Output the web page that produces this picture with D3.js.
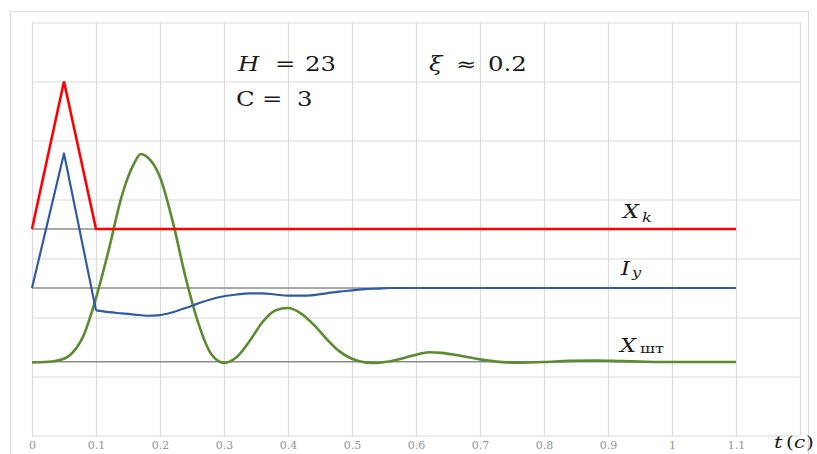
<!DOCTYPE html>
<html>
<head>
<meta charset="utf-8">
<script src="https://cdn.jsdelivr.net/npm/d3@7/dist/d3.min.js"></script>
<style>
  html, body { margin: 0; padding: 0; background: #fff; }
  svg { display: block; }
</style>
</head>
<body>
<svg id="chart" width="817" height="454"></svg>
<script>
// Time axis ticks (seconds)
const tickValues = [0, 0.1, 0.2, 0.3, 0.4, 0.5, 0.6, 0.7, 0.8, 0.9, 1, 1.1];
const tickLabels = ["0", "0.1", "0.2", "0.3", "0.4", "0.5", "0.6", "0.7", "0.8", "0.9", "1", "1.1"];

// Control pulse X_k (offset level 3.5)
const redT = [0, 0.05, 0.1, 1.1];
const redV = [3.5, 6.0, 3.5, 3.5];

// Amplifier current I_y (offset level 2.5); first three points form the pulse
const blueT = [0, 0.05, 0.1, 0.12, 0.14, 0.16, 0.18, 0.2, 0.22, 0.24, 0.26, 0.28, 0.3, 0.32, 0.34,
  0.36, 0.38, 0.4, 0.42, 0.44, 0.46, 0.48, 0.5, 0.52, 0.54, 0.56, 0.6, 0.7, 0.8, 0.9, 1.0, 1.1];
const blueV = [2.5, 4.78, 2.12, 2.09, 2.07, 2.05, 2.03, 2.04, 2.09, 2.16, 2.24, 2.31, 2.36, 2.39, 2.41,
  2.41, 2.39, 2.37, 2.37, 2.38, 2.41, 2.44, 2.46, 2.48, 2.49, 2.5, 2.5, 2.5, 2.5, 2.5, 2.5, 2.5];

// Rod displacement X_шт (offset level 1.25)
const greenT = [0, 0.02, 0.04, 0.06, 0.08, 0.1, 0.12, 0.14, 0.16, 0.17, 0.18, 0.2, 0.22, 0.24, 0.26,
  0.28, 0.3, 0.32, 0.34, 0.36, 0.38, 0.4, 0.42, 0.44, 0.46, 0.48, 0.5, 0.52, 0.54, 0.56, 0.58, 0.6,
  0.62, 0.64, 0.66, 0.68, 0.7, 0.72, 0.74, 0.76, 0.8, 0.84, 0.88, 0.92, 0.96, 1.0, 1.1];
const greenV = [1.24, 1.245, 1.27, 1.37, 1.68, 2.33, 3.15, 4.05, 4.62, 4.77, 4.72, 4.38, 3.62, 2.68, 1.9,
  1.38, 1.23, 1.33, 1.6, 1.92, 2.12, 2.16, 2.07, 1.88, 1.64, 1.43, 1.3, 1.24, 1.23, 1.26, 1.31, 1.37,
  1.41, 1.4, 1.37, 1.33, 1.29, 1.26, 1.24, 1.235, 1.245, 1.265, 1.27, 1.26, 1.25, 1.245, 1.245];

// Zero levels of the three traces
const baseLevels = [3.5, 2.5, 1.25];

const svg = d3.select("#chart");
const plotLeft = 32, plotRight = 800, plotTop = 22.5, plotBottom = 435.5;

const x = d3.scaleLinear().domain([0, 1.2]).range([plotLeft, plotRight]);
const y = d3.scaleLinear().domain([0, 7]).range([plotBottom, plotTop]);

// Outer chart frame
svg.append("rect")
  .attr("x", 10.5).attr("y", 11.5).attr("width", 798).attr("height", 460)
  .attr("fill", "none").attr("stroke", "#d9d9d9").attr("stroke-width", 1);

// Vertical gridlines
svg.append("g")
  .attr("transform", `translate(0,${plotBottom})`)
  .call(d3.axisBottom(x).tickValues(d3.range(0, 13).map(i => i / 10)).tickSize(-(plotBottom - plotTop)).tickFormat(""))
  .call(g => g.select(".domain").remove())
  .call(g => g.selectAll(".tick line").attr("stroke", "#d9d9d9").attr("stroke-width", 1.2));

// Horizontal gridlines
svg.append("g")
  .attr("transform", `translate(${plotLeft},0)`)
  .call(d3.axisLeft(y).tickValues(d3.range(0, 8)).tickSize(-(plotRight - plotLeft)).tickFormat(""))
  .call(g => g.select(".domain").remove())
  .call(g => g.selectAll(".tick line").attr("stroke", "#d9d9d9").attr("stroke-width", 1.2));

// Time tick labels
svg.append("g")
  .attr("transform", `translate(0,${plotBottom})`)
  .call(d3.axisBottom(x).tickValues(tickValues).tickSize(0).tickPadding(6)
    .tickFormat((d, i) => tickLabels[i]))
  .call(g => g.select(".domain").remove())
  .call(g => g.selectAll("text")
    .attr("font-family", "DejaVu Serif, serif")
    .attr("font-size", 11)
    .attr("fill", "#949494"));

// Zero levels
svg.append("g").selectAll("line").data(baseLevels).join("line")
  .attr("x1", x(0)).attr("x2", x(1.1))
  .attr("y1", d => y(d)).attr("y2", d => y(d))
  .attr("stroke", "#8c8c8c").attr("stroke-width", 1.6);

const linear = d3.line().x(d => x(d[0])).y(d => y(d[1])).curve(d3.curveLinear);
const smooth = d3.line().x(d => x(d[0])).y(d => y(d[1])).curve(d3.curveMonotoneX);
const pairs = (ts, vs) => ts.map((t, i) => [t, vs[i]]);

// Green trace
svg.append("path").datum(pairs(greenT, greenV))
  .attr("d", smooth).attr("fill", "none")
  .attr("stroke", "#5b8c32").attr("stroke-width", 2.6).attr("stroke-linejoin", "round");

// Blue trace: sharp pulse then smooth settling
const bluePts = pairs(blueT, blueV);
svg.append("path").datum(bluePts.slice(0, 3))
  .attr("d", linear).attr("fill", "none")
  .attr("stroke", "#2f5ba5").attr("stroke-width", 2.2).attr("stroke-linejoin", "round");
svg.append("path").datum(bluePts.slice(2))
  .attr("d", smooth).attr("fill", "none")
  .attr("stroke", "#2f5ba5").attr("stroke-width", 2.2).attr("stroke-linejoin", "round");

// Red trace
svg.append("path").datum(pairs(redT, redV))
  .attr("d", linear).attr("fill", "none")
  .attr("stroke", "#ff0000").attr("stroke-width", 2.6).attr("stroke-linejoin", "miter");

// Math-style text: wide serif glyphs, slightly stretched horizontally
const mathFont = "DejaVu Serif, serif";
const stretch = 1.25;
function txt(xp, yp, s, size, italic) {
  return svg.append("text")
    .attr("transform", `translate(${xp},${yp}) scale(${stretch},1)`)
    .attr("font-family", mathFont)
    .attr("font-size", size)
    .attr("font-style", italic ? "italic" : "normal")
    .attr("fill", "#1a1a1a")
    .text(s);
}

// Parameters
txt(238, 71, "H", 19.5, true);
txt(275, 71, "=", 19.5, false);
txt(305, 71, "23", 19.5, false);
txt(429, 71, "ξ", 19.5, true);
txt(456, 71, "≈", 19.5, false);
txt(488, 71, "0.2", 19.5, false);
txt(236, 106, "С", 19.5, false);
txt(262, 106, "=", 19.5, false);
txt(297, 106, "3", 19.5, false);

// Series labels
txt(623, 218, "X", 18, true);
txt(642, 222, "k", 13, true);
txt(621, 275, "I", 18, true);
txt(632, 277, "y", 13, true);
txt(620, 352, "X", 18, true);
txt(640, 353, "шт", 13, false);

// Time axis title
txt(774, 448, "t", 17, true);
txt(786, 448, "(", 16, false);
txt(794, 448, "c", 16, true);
txt(806, 448, ")", 16, false);
</script>
</body>
</html>
